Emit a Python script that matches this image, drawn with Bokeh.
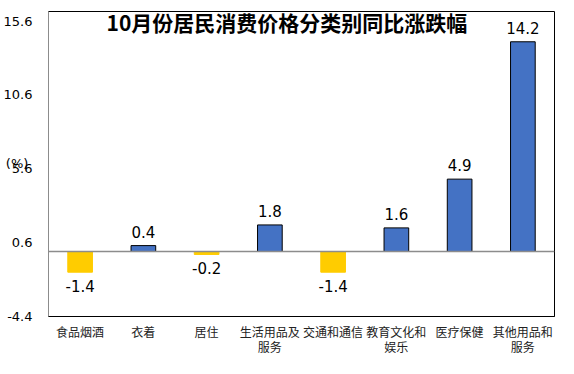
from bokeh.plotting import figure
from bokeh.models import ColumnDataSource, FixedTicker, Span, Label, Range1d
from bokeh.core.properties import value
from bokeh.embed import file_html
from bokeh.resources import INLINE

categories = ["食品烟酒", "衣着", "居住", "生活用品及\n服务", "交通和通信", "教育文化和\n娱乐", "医疗保健", "其他用品和\n服务"]
values = [-1.4, 0.4, -0.2, 1.8, -1.4, 1.6, 4.9, 14.2]
y_ticks = [-4.4, 0.6, 5.6, 10.6, 15.6]
y_tick_labels = ["-4.4", "0.6", "5.6", "10.6", "15.6"]
title_text = "10月份居民消费价格分类别同比涨跌幅"
unit_text = "(%)"
unit_pos = 5.95

BLUE = "#4472C4"
YELLOW = "#FFCC00"

xs = list(range(len(categories)))
fills = [BLUE if v >= 0 else YELLOW for v in values]
lines = ["black" if v >= 0 else YELLOW for v in values]
src = ColumnDataSource(dict(x=xs, top=values, fill=fills, line=lines))
pos = ColumnDataSource(dict(x=[x for x, v in zip(xs, values) if v >= 0],
                            y=[v for v in values if v >= 0],
                            t=[f"{v:.1f}" for v in values if v >= 0]))
neg = ColumnDataSource(dict(x=[x for x, v in zip(xs, values) if v < 0],
                            y=[v for v in values if v < 0],
                            t=[f"{v:.1f}" for v in values if v < 0]))

p = figure(width=558, height=358, output_backend="svg", toolbar_location=None,
           x_range=Range1d(-0.5, len(categories) - 0.5), y_range=Range1d(-4.4, 16.25),
           min_border_left=36, min_border_right=4, min_border_top=11, min_border_bottom=41)
p.xgrid.visible = False
p.ygrid.visible = False
p.outline_line_color = "black"
p.outline_line_width = 1
p.background_fill_color = "white"
p.border_fill_color = "white"

p.vbar(x="x", top="top", bottom=0, width=0.39, fill_color="fill", line_color="line",
       line_width=1, source=src)

p.add_layout(Span(location=0, dimension="width", line_color="#8c8c8c", line_width=1.5))

p.text(x="x", y="y", text="t", source=pos, text_align="center", text_baseline="bottom",
       y_offset=-8, text_font=value("DejaVu Sans"), text_font_size="15px", text_color="black")
p.text(x="x", y="y", text="t", source=neg, text_align="center", text_baseline="top",
       y_offset=8, text_font=value("DejaVu Sans"), text_font_size="15px", text_color="black")

p.add_layout(Label(x=3.27, y=15.55, text=title_text, text_align="center", text_baseline="middle",
                   text_font="Noto Sans CJK SC", text_font_style="bold", text_font_size="21px",
                   text_color="black"))

# y axis (the unit marker is shown as an extra labelled position on the axis)
p.yaxis.ticker = FixedTicker(ticks=y_ticks + [unit_pos])
overrides = {t: l for t, l in zip(y_ticks, y_tick_labels)}
overrides[unit_pos] = unit_text + "\u00a0"
p.yaxis.major_label_overrides = overrides
p.yaxis.major_tick_line_color = None
p.yaxis.minor_tick_line_color = None
p.yaxis.axis_line_color = "#8c8c8c"
p.yaxis.major_label_standoff = 10
p.yaxis.major_label_text_font = "DejaVu Sans"
p.yaxis.major_label_text_font_size = "13px"
p.yaxis.major_label_text_color = "black"

# x axis
p.xaxis.ticker = FixedTicker(ticks=xs)
p.xaxis.major_label_overrides = {x: c for x, c in zip(xs, categories)}
p.xaxis.major_tick_line_color = None
p.xaxis.minor_tick_line_color = None
p.xaxis.axis_line_color = "black"
p.xaxis.major_label_standoff = 0
p.xaxis.major_label_text_font = "Noto Sans CJK SC"
p.xaxis.major_label_text_font_size = "12px"
p.xaxis.major_label_text_line_height = 0.92
p.xaxis.major_label_text_color = "#222222"

open("out.html", "w").write(file_html(p, INLINE))
